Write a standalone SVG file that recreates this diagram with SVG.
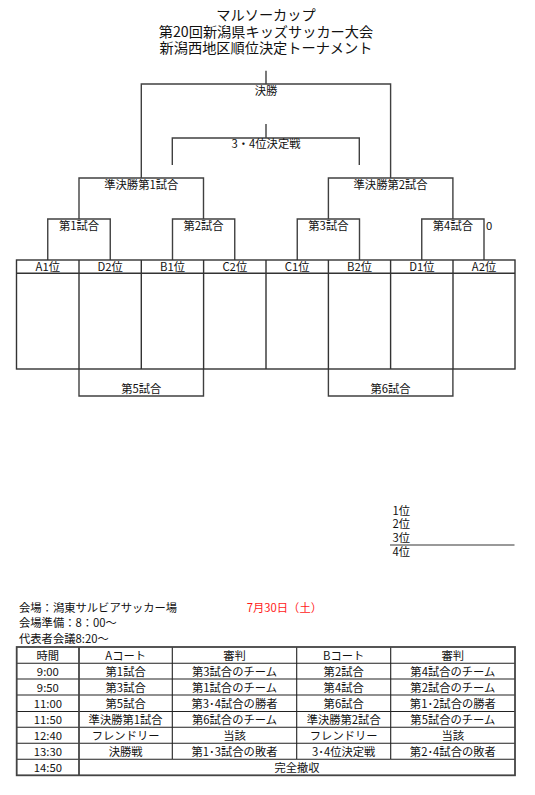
<svg xmlns="http://www.w3.org/2000/svg" width="535" height="795" viewBox="0 0 535 795">
<style>
text{font-family:"Noto Sans CJK JP","Liberation Sans",sans-serif;fill:#111;}
.t{font-size:14.2px;text-anchor:middle;}
.l{font-size:11.3px;text-anchor:middle;}
.s{font-size:11.3px;}
.r{font-size:11.3px;fill:#ff1a1a;}
.br{fill:none;stroke:#404040;stroke-width:1.4;}
.bx{fill:none;stroke:#333;stroke-width:1.4;}
.ob{fill:none;stroke:#444;stroke-width:1.8;}
.tl{fill:none;stroke:#222;stroke-width:1.1;}
</style>
<rect width="535" height="795" fill="#fff"/>
<g id="title">
<text class="t" x="266" y="20">マルソーカップ</text>
<text class="t" x="266" y="36.5">第20回新潟県キッズサッカー大会</text>
<text class="t" x="266" y="53">新潟西地区順位決定トーナメント</text>
</g>
<g id="connectors">
<path class="br" d="M141.3,178 V84 H390.6 V178 M266,70.7 V84"/>
<path class="br" d="M172.3,165 V138 H359.3 V165 M266,124 V138"/>
<path class="br" d="M79,219 V178 H203.5 V219"/>
<path class="br" d="M328.4,219 V178 H452.9 V219"/>
<path class="br" d="M47.75,260 V219 H110.25 V260"/>
<path class="br" d="M172.5,260 V219 H234.75 V260"/>
<path class="br" d="M297.25,260 V219 H359.5 V260"/>
<path class="br" d="M421.75,260 V219 H484 V260"/>
<path class="br" d="M79,369 V396 H203.5 V369"/>
<path class="br" d="M328.4,369 V396 H452.9 V369"/>
</g>
<g id="final"><text class="l" x="266" y="95">決勝</text></g>
<g id="third-place"><text class="l" x="266" y="148">3・4位決定戦</text></g>
<g id="semi1"><text class="l" x="141.3" y="188.5">準決勝第1試合</text></g>
<g id="semi2"><text class="l" x="390.6" y="188.5">準決勝第2試合</text></g>
<g id="match1"><text class="l" x="79" y="229.5">第1試合</text></g>
<g id="match2"><text class="l" x="203.6" y="229.5">第2試合</text></g>
<g id="match3"><text class="l" x="328.4" y="229.5">第3試合</text></g>
<g id="match4"><text class="l" x="452.9" y="229.5">第4試合</text><text class="s" x="486" y="230">0</text></g>
<g id="match5"><text class="l" x="141.3" y="393">第5試合</text></g>
<g id="match6"><text class="l" x="390.6" y="393">第6試合</text></g>
<g id="teams">
<rect class="bx" x="16.5" y="260" width="498.5" height="109"/>
<path class="bx" d="M16.5,273.3 H515 M79,260 V369 M141.3,260 V369 M203.6,260 V369 M266,260 V369 M328.4,260 V369 M390.6,260 V369 M453,260 V369"/>
<text class="l" x="47.75" y="270.8">A1位</text>
<text class="l" x="110.2" y="270.8">D2位</text>
<text class="l" x="172.5" y="270.8">B1位</text>
<text class="l" x="234.8" y="270.8">C2位</text>
<text class="l" x="297.2" y="270.8">C1位</text>
<text class="l" x="359.5" y="270.8">B2位</text>
<text class="l" x="421.8" y="270.8">D1位</text>
<text class="l" x="484" y="270.8">A2位</text>
</g>
<g id="ranking">
<text class="s" x="392.5" y="514.5">1位</text>
<text class="s" x="392.5" y="528">2位</text>
<text class="s" x="392.5" y="541.5">3位</text>
<path d="M390,545 H514.5" stroke="#777" stroke-width="1.5"/>
<text class="s" x="392.5" y="555.5">4位</text>
</g>
<g id="info">
<text class="s" x="19" y="611.5">会場：潟東サルビアサッカー場</text>
<text class="r" x="246.7" y="611.5">7月30日（土）</text>
<text class="s" x="19" y="627">会場準備：8：00～</text>
<text class="s" x="19" y="643">代表者会議8:20～</text>
</g>
<g id="schedule">
<path class="tl" d="M16.7,663.3 H515 M16.7,679 H515 M16.7,695 H515 M16.7,711.5 H515 M16.7,727.3 H515 M16.7,743.3 H515 M16.7,759.3 H515 M172.3,647 V759.3 M296.7,647 V759.3 M390.7,647 V759.3"/>
<path class="ob" d="M79,647 V775.3"/>
<rect class="ob" x="16.7" y="647" width="498.3" height="128.3"/>
<text class="l" x="47.85" y="659.5">時間</text>
<text class="l" x="125.65" y="659.5">Aコート</text>
<text class="l" x="234.5" y="659.5">審判</text>
<text class="l" x="343.7" y="659.5">Bコート</text>
<text class="l" x="452.85" y="659.5">審判</text>
<text class="l" x="47.85" y="675.5">9:00</text>
<text class="l" x="125.65" y="675.5">第1試合</text>
<text class="l" x="234.5" y="675.5">第3試合のチーム</text>
<text class="l" x="343.7" y="675.5">第2試合</text>
<text class="l" x="452.85" y="675.5">第4試合のチーム</text>
<text class="l" x="47.85" y="691.5">9:50</text>
<text class="l" x="125.65" y="691.5">第3試合</text>
<text class="l" x="234.5" y="691.5">第1試合のチーム</text>
<text class="l" x="343.7" y="691.5">第4試合</text>
<text class="l" x="452.85" y="691.5">第2試合のチーム</text>
<text class="l" x="47.85" y="707.7">11:00</text>
<text class="l" x="125.65" y="707.7">第5試合</text>
<text class="l" x="234.5" y="707.7">第3･4試合の勝者</text>
<text class="l" x="343.7" y="707.7">第6試合</text>
<text class="l" x="452.85" y="707.7">第1･2試合の勝者</text>
<text class="l" x="47.85" y="723.8">11:50</text>
<text class="l" x="125.65" y="723.8">準決勝第1試合</text>
<text class="l" x="234.5" y="723.8">第6試合のチーム</text>
<text class="l" x="343.7" y="723.8">準決勝第2試合</text>
<text class="l" x="452.85" y="723.8">第5試合のチーム</text>
<text class="l" x="47.85" y="739.8">12:40</text>
<text class="l" x="125.65" y="739.8">フレンドリー</text>
<text class="l" x="234.5" y="739.8">当該</text>
<text class="l" x="343.7" y="739.8">フレンドリー</text>
<text class="l" x="452.85" y="739.8">当該</text>
<text class="l" x="47.85" y="755.8">13:30</text>
<text class="l" x="125.65" y="755.8">決勝戦</text>
<text class="l" x="234.5" y="755.8">第1･3試合の敗者</text>
<text class="l" x="343.7" y="755.8">3･4位決定戦</text>
<text class="l" x="452.85" y="755.8">第2･4試合の敗者</text>
<text class="l" x="47.85" y="771.8">14:50</text>
<text class="l" x="297" y="771.8">完全撤収</text>
</g>
</svg>
